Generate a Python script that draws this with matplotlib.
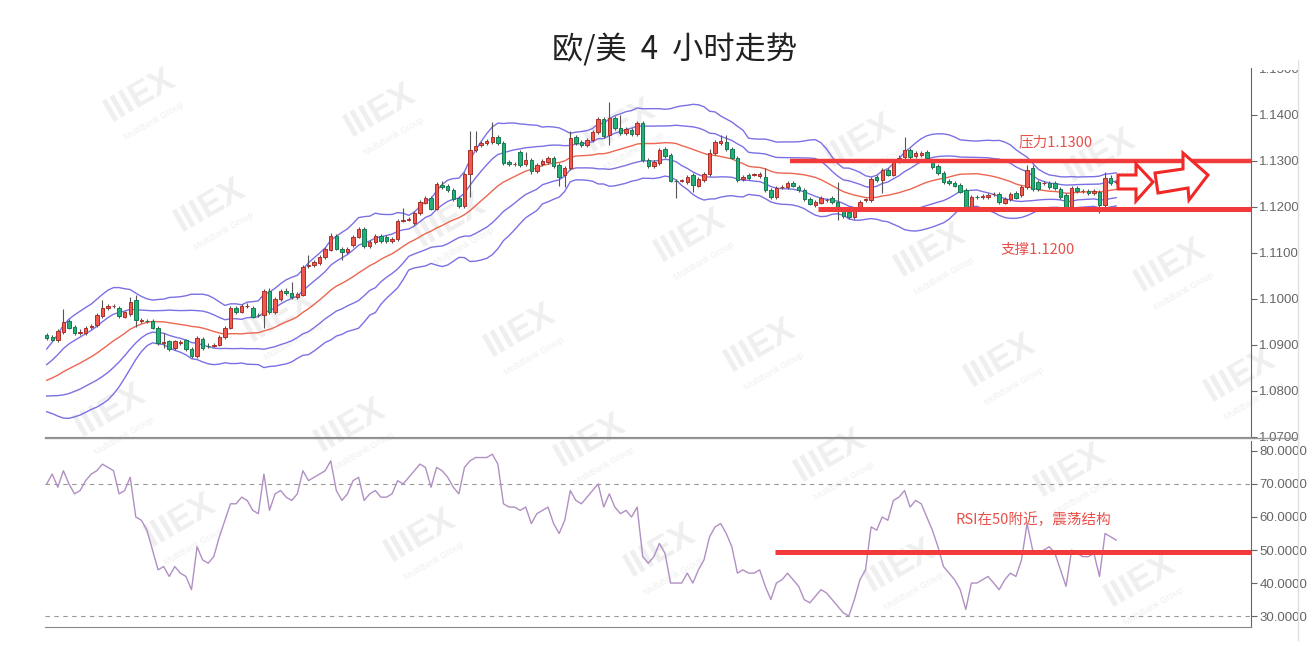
import numpy as np
import pandas as pd
import matplotlib
matplotlib.use('Agg')
import matplotlib.pyplot as plt
from matplotlib.patches import Polygon, Rectangle
from matplotlib.lines import Line2D

plt.rcParams['font.family'] = ['Liberation Sans', 'Noto Sans CJK SC', 'DejaVu Sans']

# EUR/USD 4h candles
opens = [
    1.0922, 1.0917, 1.0909, 1.0928, 1.0952, 1.0939, 1.0926, 1.0926, 1.0939, 1.0943,
    1.0963, 1.0980, 1.0983, 1.0980, 1.0961, 1.0967, 1.0998, 1.0952, 1.0952, 1.0952,
    1.0937, 1.0904, 1.0907, 1.0893, 1.0904, 1.0909, 1.0891, 1.0876, 1.0913, 1.0898,
    1.0898, 1.0900, 1.0917, 1.0937, 1.0980, 1.0972, 1.0983, 1.0980, 1.0965, 1.0965,
    1.1017, 1.0970, 1.1000, 1.1017, 1.1013, 1.1004, 1.1009, 1.1072, 1.1074, 1.1078,
    1.1091, 1.1107, 1.1137, 1.1109, 1.1102, 1.1117, 1.1135, 1.1152, 1.1115, 1.1124,
    1.1137, 1.1135, 1.1126, 1.1130, 1.1170, 1.1172, 1.1165, 1.1187, 1.1209, 1.1220,
    1.1196, 1.1248, 1.1246, 1.1237, 1.1220, 1.1202, 1.1272, 1.1324, 1.1335, 1.1339,
    1.1341, 1.1352, 1.1339, 1.1298, 1.1293, 1.1320, 1.1293, 1.1302, 1.1278, 1.1293,
    1.1298, 1.1307, 1.1291, 1.1270, 1.1285, 1.1352, 1.1341, 1.1335, 1.1346, 1.1363,
    1.1391, 1.1357, 1.1393, 1.1372, 1.1361, 1.1367, 1.1359, 1.1383, 1.1302, 1.1289,
    1.1296, 1.1326, 1.1313, 1.1257, 1.1257, 1.1254, 1.1270, 1.1246, 1.1259, 1.1272,
    1.1317, 1.1339, 1.1341, 1.1326, 1.1307, 1.1261, 1.1270, 1.1270, 1.1267, 1.1265,
    1.1237, 1.1222, 1.1243, 1.1243, 1.1252, 1.1243, 1.1237, 1.1217, 1.1204, 1.1209,
    1.1215, 1.1220, 1.1211, 1.1193, 1.1189, 1.1178, 1.1198, 1.1215, 1.1215, 1.1265,
    1.1259, 1.1280, 1.1270, 1.1300, 1.1309, 1.1324, 1.1311, 1.1313, 1.1320, 1.1298,
    1.1289, 1.1274, 1.1257, 1.1252, 1.1248, 1.1237, 1.1200, 1.1222, 1.1222, 1.1222,
    1.1228, 1.1228, 1.1209, 1.1217, 1.1230, 1.1226, 1.1243, 1.1285, 1.1254, 1.1252,
    1.1252, 1.1252, 1.1239, 1.1226, 1.1200, 1.1241, 1.1235, 1.1235, 1.1230, 1.1233,
    1.1204, 1.1263, 1.1254,
]
closes = [
    1.0915, 1.0911, 1.0930, 1.0950, 1.0937, 1.0926, 1.0927, 1.0937, 1.0941, 1.0965,
    1.0980, 1.0985, 1.0984, 1.0963, 1.0970, 1.0993, 1.0954, 1.0953, 1.0951, 1.0937,
    1.0904, 1.0905, 1.0891, 1.0907, 1.0905, 1.0891, 1.0876, 1.0915, 1.0893, 1.0897,
    1.0900, 1.0917, 1.0937, 1.0980, 1.0970, 1.0985, 1.0984, 1.0961, 1.0964, 1.1017,
    1.0970, 1.1000, 1.1017, 1.1013, 1.1004, 1.1011, 1.1070, 1.1073, 1.1080, 1.1091,
    1.1109, 1.1137, 1.1109, 1.1102, 1.1109, 1.1135, 1.1152, 1.1115, 1.1124, 1.1137,
    1.1126, 1.1126, 1.1130, 1.1170, 1.1171, 1.1172, 1.1187, 1.1211, 1.1220, 1.1196,
    1.1250, 1.1243, 1.1237, 1.1217, 1.1202, 1.1272, 1.1324, 1.1333, 1.1339, 1.1343,
    1.1352, 1.1339, 1.1296, 1.1293, 1.1294, 1.1291, 1.1302, 1.1278, 1.1291, 1.1300,
    1.1307, 1.1289, 1.1265, 1.1285, 1.1350, 1.1339, 1.1335, 1.1346, 1.1363, 1.1391,
    1.1354, 1.1393, 1.1372, 1.1361, 1.1370, 1.1359, 1.1383, 1.1302, 1.1289, 1.1298,
    1.1324, 1.1311, 1.1257, 1.1256, 1.1257, 1.1265, 1.1248, 1.1261, 1.1272, 1.1317,
    1.1341, 1.1343, 1.1326, 1.1307, 1.1259, 1.1265, 1.1263, 1.1270, 1.1272, 1.1237,
    1.1222, 1.1241, 1.1243, 1.1252, 1.1246, 1.1237, 1.1217, 1.1207, 1.1211, 1.1220,
    1.1215, 1.1211, 1.1193, 1.1180, 1.1178, 1.1193, 1.1211, 1.1216, 1.1261, 1.1259,
    1.1280, 1.1270, 1.1300, 1.1307, 1.1324, 1.1309, 1.1317, 1.1317, 1.1307, 1.1287,
    1.1274, 1.1254, 1.1252, 1.1246, 1.1233, 1.1200, 1.1222, 1.1221, 1.1223, 1.1226,
    1.1228, 1.1211, 1.1217, 1.1228, 1.1220, 1.1243, 1.1280, 1.1239, 1.1239, 1.1252,
    1.1243, 1.1241, 1.1222, 1.1200, 1.1241, 1.1235, 1.1235, 1.1230, 1.1235, 1.1204,
    1.1263, 1.1252, 1.1254,
]
# wick lengths beyond the body, in pips
wick_up = [
    4, 4, 4, 28, 4, 4, 6, 4, 4, 4,
    18, 4, 5, 4, 4, 11, 11, 4, 4, 4,
    4, 21, 4, 4, 4, 4, 4, 4, 4, 6,
    4, 4, 4, 4, 4, 4, 6, 4, 4, 4,
    7, 4, 4, 6, 24, 4, 4, 23, 4, 4,
    4, 6, 4, 4, 4, 4, 4, 4, 4, 4,
    4, 4, 4, 4, 27, 6, 4, 4, 4, 4,
    4, 8, 4, 4, 4, 4, 41, 32, 4, 4,
    33, 4, 4, 4, 4, 4, 18, 4, 4, 4,
    4, 4, 4, 4, 15, 4, 4, 4, 4, 4,
    4, 35, 4, 28, 4, 4, 4, 4, 4, 4,
    4, 4, 4, 4, 4, 4, 4, 4, 4, 8,
    4, 14, 16, 4, 4, 4, 4, 4, 4, 20,
    4, 4, 4, 4, 4, 4, 4, 4, 4, 4,
    4, 4, 43, 4, 4, 4, 4, 4, 4, 4,
    4, 4, 4, 6, 28, 4, 4, 4, 4, 4,
    4, 4, 4, 4, 4, 4, 4, 4, 4, 4,
    4, 4, 4, 4, 4, 4, 11, 6, 4, 4,
    4, 4, 4, 4, 4, 4, 4, 4, 4, 4,
    13, 7, 4,
]
wick_dn = [
    4, 4, 4, 4, 4, 4, 4, 4, 4, 4,
    4, 4, 4, 4, 4, 4, 15, 4, 4, 4,
    4, 11, 4, 4, 4, 4, 4, 4, 4, 4,
    4, 4, 4, 4, 4, 4, 4, 4, 4, 28,
    4, 4, 4, 4, 4, 4, 4, 6, 4, 4,
    4, 4, 4, 17, 4, 4, 4, 4, 4, 4,
    4, 4, 4, 4, 4, 4, 4, 4, 4, 4,
    4, 4, 4, 4, 4, 4, 50, 4, 4, 4,
    4, 4, 4, 4, 4, 4, 4, 6, 4, 4,
    4, 4, 19, 27, 4, 4, 4, 4, 4, 4,
    4, 22, 4, 4, 4, 4, 4, 4, 4, 4,
    4, 4, 4, 36, 4, 4, 15, 4, 4, 4,
    4, 4, 4, 4, 5, 4, 4, 4, 4, 4,
    4, 4, 4, 4, 4, 4, 4, 4, 4, 4,
    4, 4, 21, 4, 4, 4, 4, 4, 4, 4,
    29, 4, 4, 4, 4, 4, 4, 4, 4, 4,
    4, 4, 4, 4, 4, 4, 4, 4, 4, 4,
    4, 4, 4, 4, 4, 4, 4, 4, 4, 4,
    4, 4, 4, 4, 6, 4, 4, 4, 4, 17,
    13, 4, 4,
]
# closes before the visible window, only used to seed the bands
warmup = [1.0805, 1.0810, 1.0800, 1.0808, 1.0802, 1.0806, 1.0798, 1.0804, 1.0810, 1.0803,
          1.0807, 1.0800, 1.0806, 1.0804, 1.0810, 1.0830, 1.0852, 1.0876, 1.0900]

rsi = [
    70, 73, 69, 74, 70, 67, 68, 71, 73, 74,
    76, 75, 74, 67, 68, 72, 60, 59, 56, 50,
    44, 45, 42, 45, 43, 42, 38, 51, 47, 46,
    48, 54, 59, 64, 64, 66, 65, 62, 61, 73,
    62, 67, 68, 66, 65, 67, 74, 71, 72, 73,
    74, 77, 68, 65, 67, 71, 72, 65, 67, 68,
    66, 66, 67, 71, 70, 72, 74, 76, 75, 69,
    75, 74, 72, 69, 67, 75, 77, 78, 78, 78,
    79, 76, 64, 63, 63, 62, 63, 58, 61, 62,
    63, 58, 55, 59, 68, 65, 64, 66, 68, 70,
    63, 67, 63, 61, 62, 60, 63, 48, 46, 48,
    52, 49, 40, 40, 40, 43, 40, 44, 47, 54,
    57, 58, 55, 51, 43, 44, 43, 43, 44, 39,
    35, 40, 41, 43, 41, 39, 35, 34, 36, 38,
    37, 35, 33, 31, 30, 35, 41, 44, 57, 56,
    60, 59, 65, 66, 68, 63, 65, 64, 60, 56,
    51, 45, 43, 41, 38, 32, 40, 40, 41, 42,
    40, 38, 41, 43, 42, 47, 58, 50, 49, 50,
    51, 49, 44, 39, 50, 49, 48, 48, 49, 42,
    55, 54, 53,
]

price_ticks = [1.07, 1.08, 1.09, 1.10, 1.11, 1.12, 1.13, 1.14, 1.15]
rsi_ticks = [30, 40, 50, 60, 70, 80]
resistance = 1.1300
support = 1.1195

o = np.array(opens)
c = np.array(closes)
hi = np.maximum(o, c) + np.array(wick_up) * 1e-4
lo = np.minimum(o, c) - np.array(wick_dn) * 1e-4
n = len(c)
x = np.arange(n)

full = pd.Series(warmup + closes)
mid = full.rolling(20).mean().values[-n:]
sd = full.rolling(20).std(ddof=0).values[-n:]

W, H = 1316, 646
fig = plt.figure(figsize=(W / 100, H / 100), dpi=100)


def fx(px):
    return px / W


def fy(py):
    return 1 - py / H


ax = fig.add_axes([fx(45), fy(437), fx(1251 - 45), (437 - 68) / H])
ax2 = fig.add_axes([fx(45), fy(627), fx(1251 - 45), (627 - 441) / H])
for a in (ax, ax2):
    a.set_facecolor('none')
    a.set_xlim(-0.3, 216.2)
    a.set_xticks([])
    for s in ('top', 'left'):
        a.spines[s].set_visible(False)
    a.spines['right'].set_color('#666666')
    a.spines['bottom'].set_color('#888888')
    a.yaxis.tick_right()
    a.tick_params(axis='y', labelsize=9.5, colors='#666666', length=4, width=0.8, pad=2)

# bollinger bands
band = '#7b70e4'
for k in (2, 1, -1, -2):
    ax.plot(x, mid + k * sd, color=band, lw=1.0, zorder=2)
ax.plot(x, mid, color='#ec6650', lw=1.0, zorder=2)

# candles
up = c >= o
body_col = np.where(up, '#f0584e', '#22b077')
edge_col = np.where(up, '#a9302a', '#177a52')
ax.vlines(x, lo, hi, color='#555555', lw=0.8, zorder=3)
height = np.maximum(np.abs(c - o), 0.00004)
ax.bar(x, height, bottom=np.minimum(o, c), width=0.62, color=body_col,
       edgecolor=edge_col, linewidth=0.7, zorder=4)

ax.set_ylim(1.0699, 1.1502)
ax.set_yticks(price_ticks)
ax.set_yticklabels(['%.4f' % t for t in price_ticks])

red = '#f23a3a'
ax.hlines(resistance, 133.4, 216.2, color=red, lw=3.2, zorder=5)
ax.hlines(support, 138.4, 216.2, color=red, lw=3.6, zorder=5)

# RSI panel
ax2.plot(x, rsi, color='#b090c2', lw=1.0, zorder=3)
ax2.set_ylim(26.7, 83.0)
ax2.set_yticks(rsi_ticks)
ax2.set_yticklabels(['%.4f' % t for t in rsi_ticks])
for lvl in (70, 30):
    ax2.axhline(lvl, color='#999999', lw=0.8, ls=(0, (4, 4)), zorder=1)
ax2.hlines(49.5, 130.8, 216.2, color=red, lw=3.6, zorder=5)

# frame lines
fig.add_artist(Line2D([fx(45), fx(1298)], [fy(437.5), fy(437.5)], color='#999999', lw=1.0))
fig.add_artist(Line2D([fx(1298), fx(1298)], [fy(60), fy(640)], color='#e0e0e0', lw=1.0))
fig.add_artist(Rectangle((fx(1252), fy(70)), fx(46), 70 / H, facecolor='white',
                         edgecolor='none', zorder=5))

# hollow arrows
arrow_small = [(1118, 175), (1136, 175), (1136, 164), (1153, 182), (1136, 201), (1136, 189), (1118, 189)]
arrow_big = [(1155, 173), (1183, 169), (1183, 153), (1208, 175), (1189, 200), (1188, 188), (1158, 193)]
for pts in (arrow_small, arrow_big):
    fig.add_artist(Polygon([(fx(px), fy(py)) for px, py in pts], closed=True,
                           facecolor='white', edgecolor='#f02828', lw=2.2, zorder=6))

# watermark
for j in range(-1, 6):
    for k in range(-2, 6):
        px = 140 + 240 * k + 70 * j
        py = 95 + 15 * k + 110 * j
        if 55 < px < 1250 and 45 < py < 600:
            fig.text(fx(px), fy(py), 'IIIEX', fontsize=25, fontweight='bold', color='#efefef',
                     rotation=30, ha='center', va='center', zorder=-1)
            fig.text(fx(px + 14), fy(py + 26), 'MultiBank Group', fontsize=6.5, color='#efefef',
                     rotation=30, ha='center', va='center', zorder=-1)

cjk = ['Noto Sans CJK SC', 'DejaVu Sans']
fig.text(fx(675), fy(50), '欧/美  4  小时走势', fontsize=22.5, ha='center', va='center',
         family=cjk, color='#222222')
fig.text(fx(1056), fy(142), '压力1.1300', fontsize=10.5, ha='center', va='center',
         family=cjk, color='#e8504a')
fig.text(fx(1038), fy(250), '支撑1.1200', fontsize=10.5, ha='center', va='center',
         family=cjk, color='#e8504a')
fig.text(fx(1033), fy(520), 'RSI在50附近，震荡结构', fontsize=10.5, ha='center', va='center',
         family=cjk, color='#e8504a')

fig.savefig('out.png', dpi=100)
